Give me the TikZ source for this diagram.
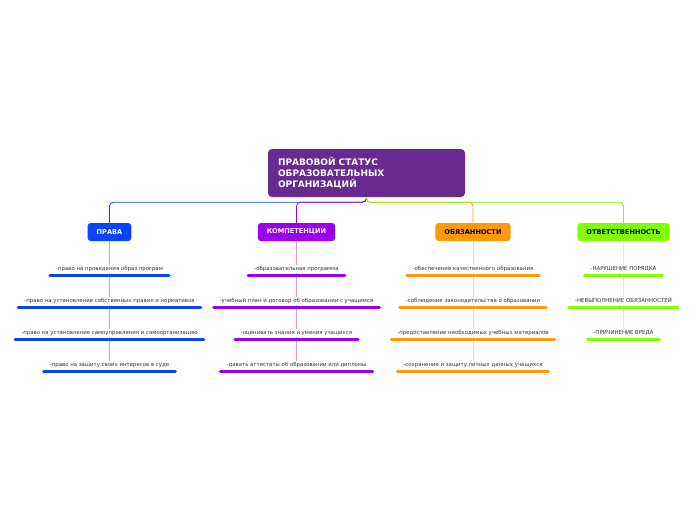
\documentclass[tikz,border=0pt]{standalone}
\usepackage{fontspec}
\setmainfont{DejaVu Sans}
\usetikzlibrary{positioning}
\definecolor{cstatus}{HTML}{682A8E}
\definecolor{cblue}{HTML}{0A44F6}
\definecolor{cpurple}{HTML}{9A00EE}
\definecolor{corange}{HTML}{FF9A0A}
\definecolor{clime}{HTML}{80FF00}
\definecolor{ctext}{HTML}{333333}
\begin{document}
\begin{tikzpicture}[x=1pt,y=-1pt,
    root/.style={fill=cstatus, text=white, rounded corners=4pt,
      font=\bfseries\fontsize{9}{11}\selectfont, align=left,
      text width=177pt, minimum height=48pt, inner xsep=10pt},
    topic/.style={rounded corners=3pt, minimum height=18pt, inner xsep=9pt,
      font=\bfseries\fontsize{6.6}{8}\selectfont},
    leaf/.style={font=\fontsize{5.4}{6.5}\selectfont, text=ctext,
      text height=4pt, text depth=1.2pt, inner xsep=6pt, inner ysep=1.5pt},
    uline/.style={line width=3pt, line cap=round},
    link/.style={line width=0.8pt, rounded corners=4pt}]
  \useasboundingbox[fill=white] (0,0) rectangle (696,520);
  % main node
  \node[root] (status) at (366.5,173)
    {ПРАВОВОЙ СТАТУС\\ОБРАЗОВАТЕЛЬНЫХ\\ОРГАНИЗАЦИЙ};
  % four topics
  \node[topic, fill=cblue, text=white] (prava) at (109.5,232) {ПРАВА};
  \node[topic, fill=cpurple, text=white] (komp) at (296.5,232) {КОМПЕТЕНЦИИ};
  \node[topic, fill=corange, text=black] (obyaz) at (473,232) {ОБЯЗАННОСТИ};
  \node[topic, fill=clime, text=black] (otv) at (623.5,232) {ОТВЕТСТВЕННОСТЬ};
  \foreach \t/\c in {prava/cblue, komp/cpurple, obyaz/corange, otv/clime}
    \draw[link, \c] (status.south) -- ++(0,5) -| (\t.north);
  % leaves of each topic
  \foreach \txt [count=\i] in {-право  на проведения образ.програм,
      -право на установление собственных правил и нормативов,
      -право на установление самоуправления и самоорганизацию,
      -право на защиту своих интересов в суде}
    \node[leaf] (pr\i) at (109.5,237+32*\i) {\txt};
  \foreach \txt [count=\i] in {-образовательная программа,
      -учебный план и договор об образовании с учащимся,
      -оценивать знания и умения учащихся,
      -давать аттестаты об образовании или дипломы}
    \node[leaf] (ko\i) at (296.5,237+32*\i) {\txt};
  \foreach \txt [count=\i] in {-обеспечение качественного образования,
      -соблюдение законодательства о образовании,
      -предоставление необходимых учебных материалов,
      -сохранение и защиту личных данных учащихся}
    \node[leaf] (ob\i) at (473,237+32*\i) {\txt};
  \foreach \txt [count=\i] in {-НАРУШЕНИЕ ПОРЯДКА,
      -НЕВЫПОЛНЕНИЕ ОБЯЗАННОСТЕЙ, -ПРИЧИНЕНИЕ ВРЕДА}
    \node[leaf] (ot\i) at (623.5,237+32*\i) {\txt};
  % thin links down each column
  \draw[cblue!40] (prava.south) -- (pr1.north) (pr1.south) -- (pr2.north)
    (pr2.south) -- (pr3.north) (pr3.south) -- (pr4.north);
  \draw[cpurple!40] (komp.south) -- (ko1.north) (ko1.south) -- (ko2.north)
    (ko2.south) -- (ko3.north) (ko3.south) -- (ko4.north);
  \draw[corange!40] (obyaz.south) -- (ob1.north) (ob1.south) -- (ob2.north)
    (ob2.south) -- (ob3.north) (ob3.south) -- (ob4.north);
  \draw[clime!40] (otv.south) -- (ot1.north) (ot1.south) -- (ot2.north)
    (ot2.south) -- (ot3.north);
  % underlines
  \foreach \n/\c in {pr1/cblue, pr2/cblue, pr3/cblue, pr4/cblue,
      ko1/cpurple, ko2/cpurple, ko3/cpurple, ko4/cpurple,
      ob1/corange, ob2/corange, ob3/corange, ob4/corange,
      ot1/clime, ot2/clime, ot3/clime}
    \draw[uline, \c] ([yshift=-2pt]\n.south west) -- ([yshift=-2pt]\n.south east);
\end{tikzpicture}
\end{document}
